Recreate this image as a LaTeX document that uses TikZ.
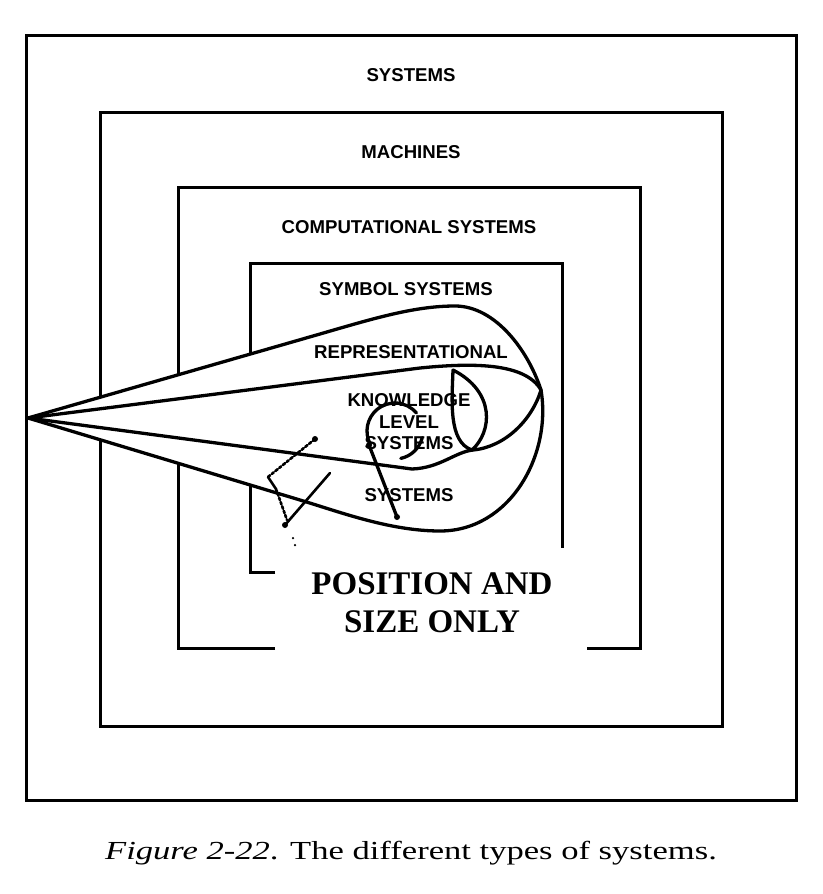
\documentclass[tikz,border=0pt]{standalone}
\usepackage{fontspec}
\usepackage{graphicx}
\setmainfont{Liberation Serif}
\newfontfamily\labelfont{Liberation Sans}
\usetikzlibrary{positioning, calc}

\begin{document}
\begin{tikzpicture}[
    x=1pt, y=-1pt,
    frame/.style={line width=3pt},
    curve/.style={line width=3.3pt, line join=round, line cap=round},
    stray/.style={line width=2.6pt, line cap=round},
    blob/.style={circle, fill, inner sep=0pt, minimum size=#1},
    blob/.default=6pt,
    boxlabel/.style={font=\labelfont\bfseries\fontsize{18.6}{21.5}\selectfont, align=center, inner sep=0pt},
    bigtext/.style={font=\bfseries\fontsize{33}{38}\selectfont, align=center, inner sep=0pt},
    captext/.style={font=\fontsize{26}{30}\selectfont, inner sep=0pt, anchor=base},
]
\useasboundingbox (0,0) rectangle (822,894);

% ======== NESTED FRAMES ========
\draw[frame] (26,35) rectangle (796,800);
\draw[frame] (100,112) rectangle (722,726);
\draw[frame] (275,648) -| (178,187) -| (640,648) -- (587,648);
\draw[frame] (275,572) -| (250,263) -| (562,548);

\node[boxlabel] (systems) at (411,75) {SYSTEMS};
\node[boxlabel] (machines) at (411,152) {MACHINES};
\node[boxlabel] (computational) at (409,227) {COMPUTATIONAL SYSTEMS};
\node[boxlabel] (symbol) at (406,289) {SYMBOL SYSTEMS};

% ======== TEARDROPS ========
\coordinate (apex) at (28,418);
\coordinate (cusp) at (541,390);

% representational systems
\draw[curve, fill=white] (apex) -- (320,334)
    .. controls (375,318) and (415,306) .. (455,306)
    .. controls (495,306) and (528,350) .. (cusp)
    .. controls (552,455) and (510,531) .. (440,531)
    .. controls (390,531) and (340,512) .. (300,500) -- cycle;

% knowledge level systems
\draw[curve] (apex) -- (420,368)
    .. controls (470,363) and (525,362) .. (cusp)
    .. controls (532,420) and (505,447) .. (473,450)
    .. controls (455,452) and (440,468) .. (412,469) -- (apex);

% small loop
\draw[curve] (453,370) .. controls (452,400) and (448,442) .. (472,450)
    .. controls (492,432) and (496,392) .. (453,370);

% broken circle round the inner label
\coordinate (ring) at (395,431);
\draw[curve] (ring) ++(-40:28) arc[start angle=-40, end angle=-208, radius=28];
\draw[curve] (ring) ++(14:28) arc[start angle=14, end angle=78, radius=28];
\coordinate (stemtop) at (369,445);
\coordinate (stembot) at (397,517);
\draw[curve] (stemtop) -- (stembot);
\node[blob] at (stemtop) {};
\node[blob] at (stembot) {};

% stray strokes
\coordinate (s1) at (315,439);
\coordinate (s2) at (268,477);
\coordinate (s3) at (276,489);
\coordinate (s4) at (287,520);
\coordinate (s5) at (330,473);
\coordinate (s6) at (285,525);
\draw[stray, dash dot] (s1) -- (s2);
\draw[stray] (s2) -- (s3);
\draw[stray, dotted] (s3) -- (s4);
\draw[stray] (s5) -- (s6);
\node[blob] at (s1) {};
\node[blob] at (s6) {};
\node[blob=2.5pt] at (293,538) {};
\node[blob=2.5pt] at (295,545) {};

\node[boxlabel] (repr) at (411,352) {REPRESENTATIONAL};
\node[boxlabel] (knowledge) at (409,422) {KNOWLEDGE\\LEVEL\\SYSTEMS};
\node[boxlabel] (reprsys) at (409,495) {SYSTEMS};

% ======== NOTE AND CAPTION ========
\node[bigtext] (note) at (432,603) {POSITION AND\\SIZE ONLY};
\node[captext] (caption) at (411,859)
    {\scalebox{1.33}[1]{\textit{Figure 2-22}. The different types of systems.}};

\end{tikzpicture}
\end{document}
